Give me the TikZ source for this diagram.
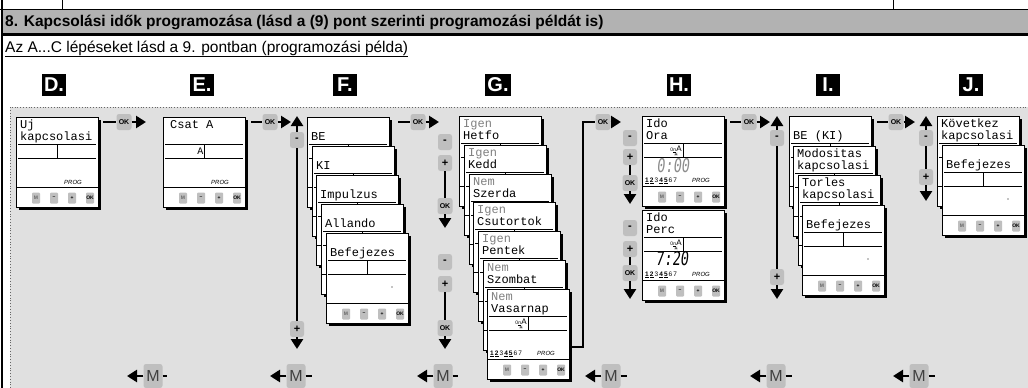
\documentclass[tikz,border=0pt]{standalone}
\usepackage{graphicx}
\usepackage{fontspec}
\setmainfont{Liberation Sans}
\newfontfamily\lcdfont{Liberation Mono}
\newfontfamily\symfont{DejaVu Sans}
\newfontfamily\segfont[FakeSlant=0.15]{DejaVu Sans Mono}
\usetikzlibrary{arrows.meta}
\definecolor{hdrgray}{gray}{0.70}
\definecolor{bggray}{gray}{0.88}
\definecolor{btngray}{gray}{0.75}
\definecolor{lcdgray}{gray}{0.5}
\tikzset{
 lcdframe/.style={draw=black, line width=0.9pt, fill=white, minimum width=82pt, minimum height=90pt, inner sep=0pt, outer sep=0pt, anchor=north west},
 lcdtxt/.style={font=\lcdfont\fontsize{12}{12}\selectfont, anchor=west, inner sep=0pt},
 lcdline/.style={line width=0.7pt},
 sbtn/.style={fill=btngray, rounded corners=1pt, minimum width=8pt, minimum height=11pt, inner sep=0pt, font=\bfseries\fontsize{5}{5}\selectfont},
 abtn/.style={fill=btngray, rounded corners=2.5pt, minimum width=14pt, minimum height=16pt, inner sep=0pt, font=\bfseries\fontsize{11}{11}\selectfont},
 okbtn/.style={abtn, minimum width=15pt, font=\bfseries\fontsize{7}{7}\selectfont},
 mbtn/.style={fill=btngray, rounded corners=2.5pt, minimum width=19pt, minimum height=24pt, inner sep=0pt, font=\fontsize{16}{16}\selectfont, text=black!75},
 flow/.style={line width=2.6pt},
 flowarr/.style={flow, -{Triangle[length=10pt,width=12pt]}},
 steplbl/.style={fill=black, text=white, font=\bfseries\fontsize{20}{20}\selectfont, minimum width=24pt, minimum height=22pt, inner xsep=2pt, inner ysep=0pt},
 progtxt/.style={font=\itshape\fontsize{6}{6}\selectfont, inner sep=0pt},
}
% back screen of a stack: frame, titles and lines only (the rest is covered)
\newcommand\lcdback[5]{%
 \begin{scope}[shift={(#2,#3)}]
  \fill[black] (2.5,2.5) rectangle (84.5,92.5);
  \node[lcdframe] (#1) at (0,0) {};
  \node[lcdtxt, anchor=base west] at (4,11) {#4};
  \node[lcdtxt, anchor=base west] at (4,23.5) {#5};
  \draw[lcdline] (2,27) -- (80,27) (2,41) -- (80,41) (41,27) -- (41,41);
  \draw[lcdline] (0,70) -- (82,70);
 \end{scope}}
% full screen with keys
\newcommand\lcdscr[6]{%
 \lcdback{#1}{#2}{#3}{#4}{#5}%
 \begin{scope}[shift={(#2,#3)}]
  \node[sbtn, text=black!60] (#1-m) at (20,81) {M};
  \node[sbtn] (#1-mi) at (38,81) {--};
  \node[sbtn] (#1-pl) at (56,81) {+};
  \node[sbtn] (#1-ok) at (74,81) {OK};
  #6
 \end{scope}}
\newcommand\onaicon{%
  \node[inner sep=0pt, anchor=base east, font=\fontsize{5}{5}\selectfont] at (40,35) {0\kern0.3pt\underline{n}\kern0.3pt{\fontsize{8}{8}\selectfont A}};
  \node[inner sep=0pt, font=\symfont\fontsize{5}{5}\selectfont] at (34,38.5) {☀};}
\newcommand\daysrow{%
  \node[inner sep=0pt, anchor=base west, font=\bfseries\fontsize{6.5}{6.5}\selectfont] at (3,66) {\underline{1}\,\underline{2}\,{\mdseries 3}\,\underline{4}\,\underline{5}\,{\mdseries 6\,7}};
  \node[progtxt, anchor=base west] at (50,66) {PROG};}
\newcommand\befdot{\fill (66,54) circle (0.6);}
\begin{document}
\begin{tikzpicture}[x=1pt,y=-1pt]
\useasboundingbox (0,0) rectangle (1028,388);
% frame and header
\fill[hdrgray] (3,10) rectangle (1028,33);
\draw[line width=0.8pt] (0,9.5) -- (1028,9.5);
\draw[line width=0.8pt] (62,0) -- (62,9.5) (893,0) -- (893,9.5);
\draw[line width=2.2pt] (3,34.5) -- (1028,34.5);
\draw[line width=2pt] (2,0) -- (2,388);
\node[anchor=base west, inner sep=0pt, font=\bfseries\fontsize{15.5}{15.5}\selectfont] (hdr) at (5,26) {8. Kapcsolási idők programozása (lásd a (9) pont szerinti programozási példát is)};
\node[anchor=base west, inner sep=0pt, font=\fontsize{15.5}{15.5}\selectfont] (sub) at (5,52) {\underline{Az A...C lépéseket lásd a 9. pontban (programozási példa)}};
% background
\fill[bggray] (10,107) rectangle (1028,388);
\draw[dotted, line width=0.8pt, black!60] (10,388) -- (10,107) -- (1028,107);
% step labels
\node[steplbl] (lblD) at (54,85) {D.};
\node[steplbl] (lblE) at (202,85) {E.};
\node[steplbl] (lblF) at (345,85) {F.};
\node[steplbl] (lblG) at (498,85) {G.};
\node[steplbl] (lblH) at (679,85) {H.};
\node[steplbl] (lblI) at (828,85) {I.};
\node[steplbl] (lblJ) at (971,85) {J.};
% screens D, E
\lcdscr{scrD}{16}{117}{Uj}{kapcsolasi}{\node[progtxt] at (57,65) {PROG};}
\lcdscr{scrE}{163}{117}{\hspace{3pt}Csat A}{}{\node[lcdtxt, anchor=east, font=\lcdfont\fontsize{10}{10}\selectfont] at (40.5,34) {A}; \node[progtxt] at (57,65) {PROG};}
% stack F
\lcdback{scrF1}{307}{117}{}{BE}
\lcdback{scrF2}{312}{146}{}{KI}
\lcdback{scrF3}{316}{175}{}{Impulzus}
\lcdback{scrF4}{321}{204}{}{Allando}
\lcdscr{scrF5}{326}{233}{}{Befejezes}{\befdot}
% stack G
\lcdback{scrG1}{459}{116}{\textcolor{lcdgray}{Igen}}{Hetfo}
\lcdback{scrG2}{464}{145}{\textcolor{lcdgray}{Igen}}{Kedd}
\lcdback{scrG3}{469}{174}{\textcolor{lcdgray}{Nem}}{Szerda}
\lcdback{scrG4}{473}{202}{\textcolor{lcdgray}{Igen}}{Csutortok}
\lcdback{scrG5}{478}{231}{\textcolor{lcdgray}{Igen}}{Pentek}
\lcdback{scrG6}{483}{260}{\textcolor{lcdgray}{Nem}}{Szombat}
\lcdscr{scrG7}{487}{289}{\textcolor{lcdgray}{Nem}}{Vasarnap}{\onaicon\daysrow}
% screens H
\lcdscr{scrH1}{642}{116}{Ido}{Ora}{\onaicon\daysrow\node[font=\segfont\fontsize{19}{19}\selectfont, text=black!45, inner sep=0pt] at (31,50) {\scalebox{0.72}[1]{0:00}};}
\lcdscr{scrH2}{642}{210}{Ido}{Perc}{\onaicon\daysrow\node[font=\segfont\fontsize{19}{19}\selectfont, text=black, inner sep=0pt] at (30,49) {\scalebox{0.72}[1]{7:20}};}
% stack I
\lcdback{scrI1}{789}{116}{}{BE (KI)}
\lcdback{scrI2}{793}{146}{Modositas}{kapcsolasi}
\lcdback{scrI3}{798}{175}{Torles}{kapcsolasi}
\lcdscr{scrI4}{802}{205}{}{Befejezes}{\befdot}
% stack J
\lcdback{scrJ1}{937}{116}{Következ}{kapcsolasi}
\lcdscr{scrJ2}{942}{145}{}{Befejezes}{\befdot}
% horizontal OK arrows
\coordinate (aDE) at (103,122); \node[okbtn] (okDE) at (124,122) {OK}; \coordinate (tDE) at (146,122);
\draw[flow] (aDE) -- (okDE); \draw[flowarr] (okDE) -- (tDE);
\coordinate (aEF) at (251,122); \node[okbtn] (okEF) at (270,122) {OK}; \coordinate (tEF) at (291,122);
\draw[flow] (aEF) -- (okEF); \draw[flowarr] (okEF) -- (tEF);
\coordinate (aFG) at (398,122); \node[okbtn] (okFG) at (418,122) {OK}; \coordinate (tFG) at (439,122);
\draw[flow] (aFG) -- (okFG); \draw[flowarr] (okFG) -- (tFG);
\coordinate (aGH0) at (570,347); \coordinate (aGH1) at (583,347); \coordinate (aGH2) at (583,122);
\node[okbtn] (okGH) at (603,122) {OK}; \coordinate (tGH) at (621,122);
\draw[flow] (aGH0) -- (aGH1) -- (aGH2) -- (okGH); \draw[flowarr] (okGH) -- (tGH);
\coordinate (aHI) at (730,122); \node[okbtn] (okHI) at (749,122) {OK}; \coordinate (tHI) at (770,122);
\draw[flow] (aHI) -- (okHI); \draw[flowarr] (okHI) -- (tHI);
\coordinate (aIJ) at (877,122); \node[okbtn] (okIJ) at (896,122) {OK}; \coordinate (tIJ) at (915,122);
\draw[flow] (aIJ) -- (okIJ); \draw[flowarr] (okIJ) -- (tIJ);
% column F
\coordinate (fUp) at (297,116); \node[abtn] (fMi) at (297,140) {-};
\node[abtn] (fPl) at (297,329) {+}; \coordinate (fDn) at (297,349);
\draw[flowarr] (fMi) -- (fUp); \draw[flow] (fMi) -- (fPl); \draw[flowarr] (fPl) -- (fDn);
% column G
\node[abtn] (gMi1) at (445,142) {-}; \node[abtn] (gPl1) at (445,163) {+};
\node[okbtn] (gOk1) at (445,206) {OK}; \coordinate (gT1) at (445,228);
\draw[flow] (gPl1) -- (gOk1); \draw[flowarr] (gOk1) -- (gT1);
\node[abtn] (gMi2) at (445,262) {-}; \node[abtn] (gPl2) at (445,284) {+};
\node[okbtn] (gOk2) at (445,328) {OK}; \coordinate (gT2) at (445,349);
\draw[flow] (gPl2) -- (gOk2); \draw[flowarr] (gOk2) -- (gT2);
% column H
\node[abtn] (hMi1) at (630,138) {-}; \node[abtn] (hPl1) at (630,157) {+};
\node[okbtn] (hOk1) at (630,183) {OK}; \coordinate (hT1) at (630,204);
\draw[flow] (hPl1) -- (hOk1); \draw[flowarr] (hOk1) -- (hT1);
\node[abtn] (hMi2) at (630,228) {-}; \node[abtn] (hPl2) at (630,249) {+};
\node[okbtn] (hOk2) at (630,273) {OK}; \coordinate (hT2) at (630,299);
\draw[flow] (hPl2) -- (hOk2); \draw[flowarr] (hOk2) -- (hT2);
% column I
\coordinate (iUp) at (777,116); \node[abtn] (iMi) at (777,138) {-};
\node[abtn] (iPl) at (777,277) {+}; \coordinate (iDn) at (777,299);
\draw[flowarr] (iMi) -- (iUp); \draw[flow] (iMi) -- (iPl); \draw[flowarr] (iPl) -- (iDn);
% column J
\coordinate (jUp) at (926,116); \node[abtn] (jMi) at (926,138) {-};
\node[abtn] (jPl) at (926,177) {+}; \coordinate (jDn) at (926,201);
\draw[flowarr] (jMi) -- (jUp); \draw[flow] (jMi) -- (jPl); \draw[flowarr] (jPl) -- (jDn);
% bottom M arrows
\foreach \n/\t/\m/\d in {1/127/153/167, 2/270/296/312, 3/417/443/458, 4/585/611/627, 5/750/776/792, 6/893/919/935}{
  \node[mbtn] (mM\n) at (\m,376) {M};
  \coordinate (mT\n) at (\t,376); \coordinate (mD\n) at (\d,376);
  \draw[flowarr] (mM\n) -- (mT\n); \draw[flow] (mM\n) -- (mD\n);
}
\end{tikzpicture}
\end{document}
